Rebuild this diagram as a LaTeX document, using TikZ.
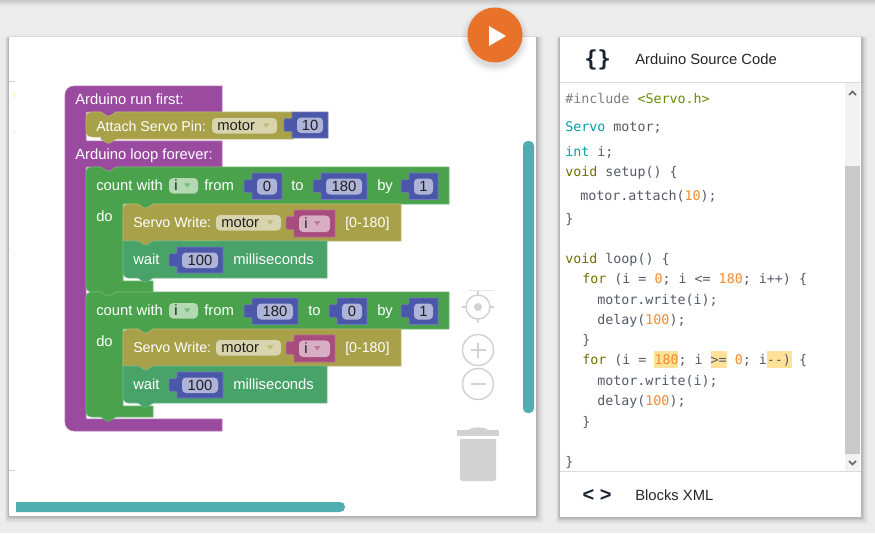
\documentclass[tikz,border=0pt]{standalone}
\usepackage{fontspec}
\setmainfont{Liberation Sans}
\newfontfamily\codefont{DejaVu Sans Mono}
\usetikzlibrary{calc}
\definecolor{pagebg}{HTML}{ECECEC}
\definecolor{cpurple}{HTML}{9A4BA0}
\definecolor{colive}{HTML}{A8A14A}
\definecolor{cgreen}{HTML}{4AA34C}
\definecolor{cwait}{HTML}{48A368}
\definecolor{cblue}{HTML}{4B57A8}
\definecolor{cpink}{HTML}{A84B7E}
\definecolor{cteal}{HTML}{50ADB0}
\definecolor{cicon}{HTML}{D2D2D2}
\definecolor{corange}{HTML}{E8722A}
\definecolor{hl}{HTML}{FFE29A}
\definecolor{kw}{HTML}{6F7000}
\definecolor{ty}{HTML}{00A0A8}
\definecolor{num}{HTML}{F58A2E}
\definecolor{cd}{HTML}{555A66}
\definecolor{str}{HTML}{6B8E00}
\definecolor{cdark}{HTML}{1A2433}
\tikzset{
  blocktext/.style={anchor=base west,inner sep=0pt,text=white,font=\fontsize{11.1}{13}\selectfont},
  snugtext/.style={blocktext,font=\fontsize{10.65}{13}\selectfont},
  fieldtext/.style={anchor=base,inner sep=0pt,text=black!88,font=\fontsize{11.1}{13}\selectfont},
  code/.style={anchor=base west,inner sep=0pt,text=cd,font=\codefont\fontsize{10}{12}\selectfont},
  head/.style={anchor=base west,inner sep=0pt,text=black!85,font=\fontsize{11.1}{13}\selectfont},
  icon/.style={anchor=center,inner sep=0pt,text=cdark,font=\codefont\bfseries\fontsize{16.5}{18}\selectfont},
  panel/.style={fill=white},
  iconline/.style={draw=cicon,line width=1.1pt},
}
% px helpers
\newcommand{\notchtop}{-- ++(6,4) -- ++(3,0) -- ++(6,-4)}
\newcommand{\notchbot}{-- ++(-6,4) -- ++(-3,0) -- ++(-6,-4)}
\newcommand{\blc}[2]{-- (#1+6,#2) .. controls (#1+2.5,#2) and (#1,#2-2.5) .. (#1,#2-6)}
% value block: name, x, y, w, h, colour, text
\newcommand{\valblock}[7]{%
  \fill[#6,draw=#6!80!white,line width=.4pt] (#2,#3) -- ++(#4,0) -- ++(0,#5) -- ++(-#4,0) -- (#2,#3+20)
    .. controls (#2-3,#3+17) and (#2-8,#3+23) .. (#2-8,#3+16) -- (#2-8,#3+10)
    .. controls (#2-8,#3+3) and (#2-3,#3+9) .. (#2,#3+6) -- cycle;
  \fill[#6!45!white,rounded corners=3pt] (#2+5,#3+5.5) rectangle (#2+#4-5,#3+#5-5);
  \node[fieldtext] (#1) at (#2+#4/2,#3+#5/2+5) {#7};
}
% dropdown field: name, x, y, w, h, fill colour, arrow colour, text
\newcommand{\dropfield}[8]{%
  \fill[#6,rounded corners=3pt] (#2,#3) rectangle (#2+#4,#3+#5);
  \node[fieldtext,anchor=base west] (#1) at (#2+5,#3+#5/2+5) {#8};
  \fill[#7] (#2+#4-14,#3+#5/2-2.5) -- ++(6.5,0) -- ++(-3.25,4.5) -- cycle;
}
% shadow around a rectangle
\newcommand{\softshadow}[4]{%
  \foreach \s/\o in {7/.03,5/.05,3/.07,1.5/.10}{
    \fill[black,opacity=\o,rounded corners=1pt] (#1-\s*.6,#2-\s*.1) rectangle (#3+\s,#4+\s);
  }
}
\begin{document}
\begin{tikzpicture}[x=0.75pt,y=-0.75pt]
\useasboundingbox (0,0) rectangle (875,533);
\fill[pagebg] (0,0) rectangle (875,533);
\shade[top color=black!22,bottom color=pagebg] (0,0) rectangle (875,6);
% panels
\softshadow{9}{37}{536}{516}
\softshadow{560}{37}{861}{517}
\fill[panel] (9,37) rectangle (536,516);
\fill[panel] (560,37) rectangle (861,517);
% faint grid marks
\fill[black!18] (9,81) rectangle (15,81.7);
\fill[black!18] (9,470) rectangle (15,470.7);
\fill[hl!70] (14,92) rectangle (15,98);
\fill[hl!70] (14,130) rectangle (15,133);
\fill[hl!70] (14,252) rectangle (15,255);
% play button
\foreach \s/\o in {7/.02,5/.03,3/.04,1/.05}{\fill[black,opacity=\o] (495,39) circle (27+\s);}
\fill[corange] (495,35) circle (27.5);
\fill[white] (489,26) -- (506,36) -- (489,46) -- cycle;
% ---------- scrollbars of workspace
\fill[cteal,rounded corners=3.5pt] (523,141) rectangle (534,413);
\fill[cteal] (16,502) -- (340,502) .. controls (343,502) and (345,504) .. (345,507) .. controls (345,510) and (343,512) .. (340,512) -- (16,512) -- cycle;
% ---------- workspace controls
\draw[iconline] (478,307) circle (12);
\fill[cicon] (478,307) circle (4);
\draw[iconline] (478,290) -- (478,295) (478,319) -- (478,323) (462,307) -- (466,307) (490,307) -- (494,307);
\fill[black!10] (469,290) rectangle (494,290.7);
\draw[iconline] (478,350) circle (15.5);
\draw[iconline] (470.5,350) -- (485.5,350) (478,342.5) -- (478,357.5);
\draw[iconline] (478,384) circle (15.5);
\draw[iconline] (470.5,384) -- (485.5,384);
\fill[cicon] (457,430) rectangle (499,436);
\fill[cicon] (468,430) .. controls (472,426.5) and (484,426.5) .. (488,430) -- cycle;
\fill[cicon] (460,439) -- (496,439) -- (496,478) .. controls (496,480) and (495,481) .. (493,481) -- (463,481) .. controls (461,481) and (460,480) .. (460,478) -- cycle;
% ---------- purple C block
\fill[cpurple,draw=cpurple!80!white,line width=.4pt]
  (65,95) .. controls (65,90) and (69,86) .. (74,86) -- (222,86) -- (222,112) -- (116,112) \notchbot -- (86,112)
  -- (86,141) -- (222,141) -- (222,167) -- (116,167) \notchbot -- (86,167) -- (86,419) -- (222,419) -- (222,431)
  -- (74,431) .. controls (69,431) and (65,427) .. (65,422) -- cycle;
% ---------- attach block
\fill[colive,draw=colive!80!white,line width=.4pt]
  (86,118) .. controls (86,114) and (88,112) .. (91,112) -- (101,112) \notchtop -- (293,112) -- (293,139) -- (116,139) \notchbot
  -- (101,137) -- (93,137) .. controls (89,137) and (86,135) .. (86,131) -- cycle;
\dropfield{fmotorA}{212}{118}{65}{15.5}{colive!45!white}{colive!75!white}{motor}
\valblock{vten}{292}{112}{36}{26}{cblue}{10}
\node[snugtext] (tattach) at (96,131) {Attach Servo Pin:};
\node[blocktext] (trun) at (75,104) {Arduino run first:};
\node[blocktext] (tloop) at (75,159) {Arduino loop forever:};
% ---------- two count loops
\foreach \dy/\vone/\voneW/\vtwoX/\vtwoW/\vtwo/\toX/\sfx in {0/0/30/321/46/180/291/a,125/180/46/337/30/0/308/b}{
  % loop shell
  \fill[cgreen,draw=cgreen!80!white,line width=.4pt]
    (86,172+\dy) .. controls (86,169+\dy) and (88,167+\dy) .. (91,167+\dy) -- (101,167+\dy) \notchtop
    -- (449,167+\dy) -- (449,204+\dy) -- (153,204+\dy) \notchbot -- (123,204+\dy) -- (123,281+\dy) -- (153,281+\dy)
    -- (153,292+\dy) -- (116,292+\dy) \notchbot \blc{86}{292+\dy} -- cycle;
  \node[blocktext] (tcount\sfx) at (96,190+\dy) {count with};
  \dropfield{fi\sfx}{169}{178+\dy}{29}{15.5}{cgreen!42!white}{cgreen!75!white}{i}
  \node[blocktext] (tfrom\sfx) at (204,190+\dy) {from};
  \valblock{vfrom\sfx}{252}{173+\dy}{\voneW}{26.5}{cblue}{\vone}
  \node[blocktext] (tto\sfx) at (\toX,190+\dy) {to};
  \valblock{vto\sfx}{\vtwoX}{173+\dy}{\vtwoW}{26.5}{cblue}{\vtwo}
  \node[blocktext] (tby\sfx) at (377,190+\dy) {by};
  \valblock{vby\sfx}{409}{173+\dy}{29}{26.5}{cblue}{1}
  \node[blocktext] (tdo\sfx) at (96,221+\dy) {do};
  % servo write
  \fill[colive,draw=colive!80!white,line width=.4pt]
    (123,210+\dy) .. controls (123,206+\dy) and (125,204+\dy) .. (128,204+\dy) -- (138,204+\dy) \notchtop
    -- (401,204+\dy) -- (401,241+\dy) -- (153,241+\dy) \notchbot -- (123,241+\dy) -- cycle;
  \node[snugtext] (tservo\sfx) at (133,227+\dy) {Servo Write:};
  \dropfield{fm\sfx}{216}{215+\dy}{65}{15.5}{colive!45!white}{colive!75!white}{motor}
  \valblock{vi\sfx}{294}{210+\dy}{41}{27}{cpink}{}
  \dropfield{fii\sfx}{299}{215.5+\dy}{29}{16}{cpink!45!white}{cpink!75!white}{i}
  \node[snugtext] (trange\sfx) at (345,227+\dy) {[0-180]};
  % wait
  \fill[cwait,draw=cwait!80!white,line width=.4pt]
    (123,241+\dy) -- (138,241+\dy) \notchtop -- (327,241+\dy) -- (327,278+\dy) -- (153,278+\dy) \notchbot \blc{123}{278+\dy} -- cycle;
  \node[blocktext] (twait\sfx) at (133,264+\dy) {wait};
  \valblock{vw\sfx}{177}{247+\dy}{46}{26}{cblue}{100}
  \node[blocktext] (tms\sfx) at (233,264+\dy) {milliseconds};
}
% ---------- right panel
\draw[black!14,line width=.8pt] (560,82.5) -- (861,82.5) (560,471.5) -- (861,471.5);
\fill[black!5] (845,83) rectangle (860,471);
\fill[black!21] (845,166) rectangle (860,454);
\draw[black!60,line width=1.2pt] (849,95) -- (852.5,91.5) -- (856,95);
\draw[black!60,line width=1.2pt] (849,461) -- (852.5,464.5) -- (856,461);
\node[icon] (ibrace) at (597.5,60) {\{\}};
\node[head] (tsrc) at (635,64.5) {Arduino Source Code};
\node[icon,font=\bfseries\fontsize{15}{17}\selectfont] (ixml) at (597,495) {< >};
\node[head] (txml) at (635,500) {Blocks XML};
% highlights
\fill[hl] (654,351) rectangle (678,368);
\fill[hl] (711,351) rectangle (727,368);
\fill[hl] (767,351) rectangle (792,368);
% code
\node[code] (l1) at (565,103) {\textcolor{black!50}{\#include }\textcolor{str}{<Servo.h>}};
\node[code] (l2) at (565,131) {\textcolor{ty}{Servo} motor;};
\node[code] (l3) at (565,156) {\textcolor{ty}{int} i;};
\node[code] (l4) at (565,176) {\textcolor{kw}{void} setup() \{};
\node[code] (l5) at (580,200) {motor.attach(\textcolor{num}{10});};
\node[code] (l6) at (565,223) {\}};
\node[code] (l7) at (565,263) {\textcolor{kw}{void} loop() \{};
\node[code] (l8) at (582,283) {\textcolor{kw}{for} (i = \textcolor{num}{0}; i <= \textcolor{num}{180}; i++) \{};
\node[code] (l9) at (597,304) {motor.write(i);};
\node[code] (l10) at (597,324) {delay(\textcolor{num}{100});};
\node[code] (l11) at (582,344) {\}};
\node[code] (l12) at (582,364) {\textcolor{kw}{for} (i = \textcolor{num}{180}; i >= \textcolor{num}{0}; i--) \{};
\node[code] (l13) at (597,385) {motor.write(i);};
\node[code] (l14) at (597,405) {delay(\textcolor{num}{100});};
\node[code] (l15) at (582,426) {\}};
\node[code] (l16) at (565,466) {\}};
\end{tikzpicture}
\end{document}
